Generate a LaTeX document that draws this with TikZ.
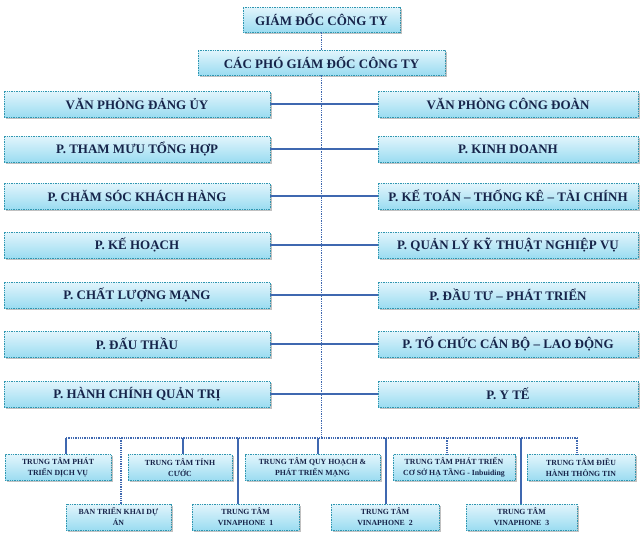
\documentclass[tikz,border=0pt]{standalone}
\usepackage{fontspec}
\setmainfont{Liberation Serif}
\usetikzlibrary{shadows}
\definecolor{boxtop}{HTML}{E2F5FC}
\definecolor{boxbot}{HTML}{9BDCF1}
\definecolor{boxline}{HTML}{2F96B0}
\definecolor{ink}{HTML}{16244A}
\definecolor{linkc}{HTML}{3F68B0}
\tikzset{
  orgbox/.style={rectangle, draw=boxline, densely dotted, line width=0.7pt,
    top color=boxtop, bottom color=boxbot, text=ink, align=center,
    inner sep=0pt, minimum height=26pt,
    drop shadow={shadow xshift=1.6pt, shadow yshift=-1.6pt, fill=gray!70, opacity=.7}},
  bigtext/.style={font=\fontsize{13}{14}\selectfont\bfseries},
  smalltext/.style={font=\fontsize{7.8}{11}\selectfont\bfseries},
  leftbox/.style={orgbox, bigtext, minimum width=266pt},
  rightbox/.style={orgbox, bigtext, minimum width=260pt},
  spine/.style={draw=linkc, line width=1.3pt, densely dotted},
  link/.style={draw=linkc, line width=1.3pt},
}
\begin{document}
\begin{tikzpicture}[x=1pt,y=-1pt]
\useasboundingbox (0,0) rectangle (642,538);

% top management
\node[orgbox, bigtext, minimum width=157pt, minimum height=25pt] (gd) at (321.5,19.5) {GIÁM ĐỐC CÔNG TY};
\node[orgbox, bigtext, minimum width=247pt, minimum height=25pt] (pgd) at (321.5,62.5) {CÁC PHÓ GIÁM ĐỐC CÔNG TY};

% departments, left column
\node[leftbox] (l1) at (137,104) {VĂN PHÒNG ĐẢNG ỦY};
\node[leftbox] (l2) at (137,149) {P. THAM MƯU TỔNG HỢP};
\node[leftbox] (l3) at (137,196) {P. CHĂM SÓC KHÁCH HÀNG};
\node[leftbox] (l4) at (137,245) {P. KẾ HOẠCH};
\node[leftbox] (l5) at (137,295) {P. CHẤT LƯỢNG MẠNG};
\node[leftbox] (l6) at (137,344) {P. ĐẤU THẦU};
\node[leftbox] (l7) at (137,394) {P. HÀNH CHÍNH QUẢN TRỊ};

% departments, right column
\node[rightbox] (r1) at (508,104) {VĂN PHÒNG CÔNG ĐOÀN};
\node[rightbox] (r2) at (508,149) {P. KINH DOANH};
\node[rightbox] (r3) at (508,196) {P. KẾ TOÁN – THỐNG KÊ – TÀI CHÍNH};
\node[rightbox] (r4) at (508,245) {P. QUẢN LÝ KỸ THUẬT NGHIỆP VỤ};
\node[rightbox] (r5) at (508,295) {P. ĐẦU TƯ – PHÁT TRIỂN};
\node[rightbox] (r6) at (508,344) {P. TỔ CHỨC CÁN BỘ – LAO ĐỘNG};
\node[rightbox] (r7) at (508,394) {P. Y TẾ};

% centres, upper row
\node[orgbox, smalltext, minimum width=106pt] (c1) at (58,467.5) {TRUNG TÂM PHÁT\\TRIỂN DỊCH VỤ};
\node[orgbox, smalltext, minimum width=104pt] (c2) at (180,467.5) {TRUNG TÂM TÍNH\\CƯỚC};
\node[orgbox, smalltext, minimum width=135pt] (c3) at (312.5,467.5) {TRUNG TÂM QUY HOẠCH \&\\PHÁT TRIỂN MẠNG};
\node[orgbox, smalltext, minimum width=122pt] (c4) at (454,467.5) {TRUNG TÂM PHÁT TRIỂN\\CƠ SỞ HẠ TẦNG - Inbuiding};
\node[orgbox, smalltext, minimum width=108pt] (c5) at (581,467.5) {TRUNG TÂM ĐIỀU\\HÀNH THÔNG TIN};

% centres, lower row
\node[orgbox, smalltext, minimum width=105pt] (d1) at (118.5,517) {BAN TRIỂN KHAI DỰ\\ÁN};
\node[orgbox, smalltext, minimum width=107pt] (d2) at (245.5,517) {TRUNG TÂM\\VINAPHONE\ \ 1};
\node[orgbox, smalltext, minimum width=108pt] (d3) at (385,517) {TRUNG TÂM\\VINAPHONE\ \ 2};
\node[orgbox, smalltext, minimum width=111pt] (d4) at (521.5,517) {TRUNG TÂM\\VINAPHONE\ \ 3};

% bus junctions
\coordinate (busL) at (66,438);
\coordinate (busR) at (577,438);
\coordinate (j1) at (121,438);
\coordinate (j2) at (183,438);
\coordinate (j3) at (238,438);
\coordinate (j4) at (318,438);
\coordinate (j5) at (386,438);
\coordinate (j6) at (447,438);
\coordinate (j7) at (521,438);

% vertical spine
\draw[spine] (gd.south) -- (pgd.north);
\draw[spine] (pgd.south) -- (pgd.south |- busL);

% row connectors
\foreach \i in {1,...,7} {
  \draw[link] (l\i.east) -- (r\i.west);
}

% bottom bus and drops
\draw[spine] (busL) -- (busR);
\draw[link] (busL) -- (busL |- c1.north);
\draw[spine] (j1) -- (j1 |- d1.north);
\draw[link] (j2) -- (j2 |- c2.north);
\draw[link] (j3) -- (j3 |- d2.north);
\draw[link] (j4) -- (j4 |- c3.north);
\draw[link] (j5) -- (j5 |- d3.north);
\draw[spine] (j6) -- (j6 |- c4.north);
\draw[link] (j7) -- (j7 |- d4.north);
\draw[spine] (busR) -- (busR |- c5.north);
\end{tikzpicture}
\end{document}
